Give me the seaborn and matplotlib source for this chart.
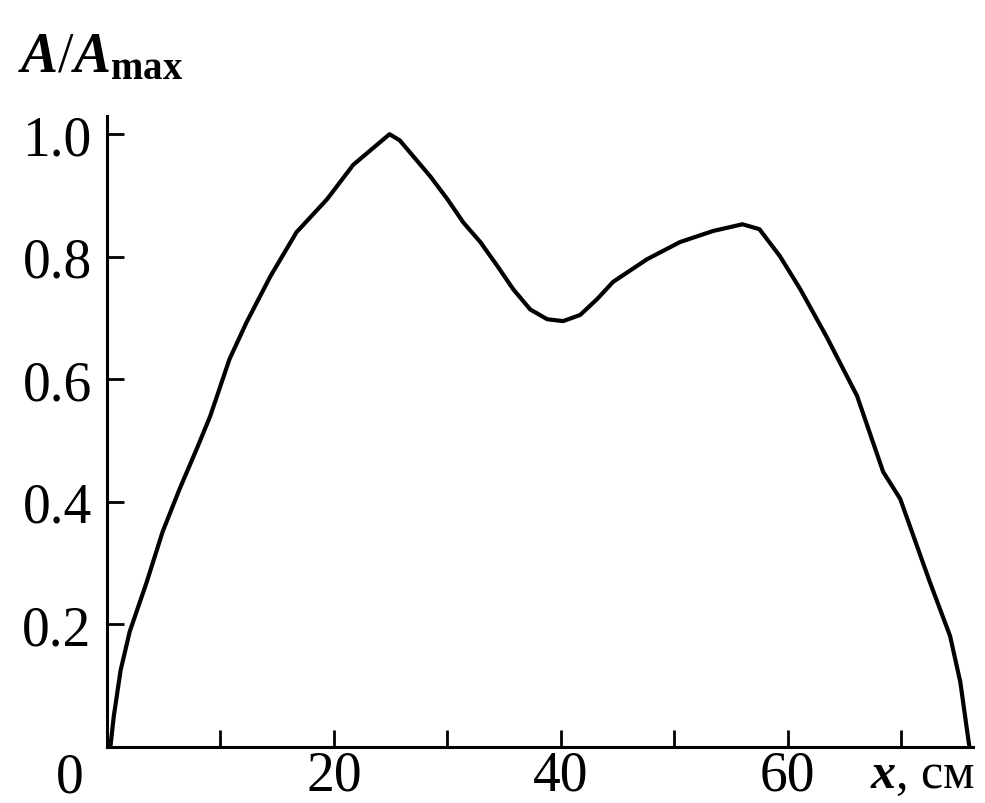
import matplotlib
matplotlib.use("Agg")
import matplotlib.pyplot as plt
import seaborn as sns
import pandas as pd

# Data
x_cm = [0.3, 0.6, 1.2, 2.0, 3.5, 4.9, 6.4, 7.9, 9.1, 10.8, 12.3, 14.4, 16.7,
        19.4, 21.7, 24.9, 25.8, 28.5, 30.0, 31.4, 32.9, 34.4, 35.8, 37.3,
        38.8, 40.2, 41.7, 43.2, 44.6, 47.6, 50.5, 53.4, 56.0, 57.5, 59.3,
        61.1, 63.4, 66.1, 68.4, 69.9, 72.5, 74.3, 75.2, 76.0]
a_rel = [0.0, 0.05, 0.125, 0.188, 0.269, 0.351, 0.421, 0.486, 0.54, 0.633,
         0.693, 0.768, 0.84, 0.894, 0.95, 1.0, 0.99, 0.931, 0.894, 0.856,
         0.824, 0.785, 0.747, 0.714, 0.698, 0.695, 0.705, 0.731, 0.759,
         0.796, 0.824, 0.842, 0.853, 0.845, 0.801, 0.747, 0.67, 0.573,
         0.449, 0.405, 0.27, 0.181, 0.106, 0.0]

x_ticks = [10, 20, 30, 40, 50, 60, 70]
x_tick_labels = ["", "20", "", "40", "", "60", ""]
y_ticks = [0.2, 0.4, 0.6, 0.8, 1.0]
y_tick_labels = ["0.2", "0.4", "0.6", "0.8", "1.0"]

sns.set_theme(style="ticks")
plt.rcParams["font.family"] = ["Liberation Serif", "DejaVu Serif"]
plt.rcParams["mathtext.fontset"] = "custom"
plt.rcParams["mathtext.rm"] = "Liberation Serif"
plt.rcParams["mathtext.it"] = "Liberation Serif:italic:bold"
plt.rcParams["mathtext.bf"] = "Liberation Serif:bold"

df = pd.DataFrame({"x": x_cm, "a": a_rel})

fig = plt.figure(figsize=(9.85, 8.04), dpi=100)
ax = fig.add_axes([0.1086, 0.0697, 0.879, 0.785])
sns.lineplot(data=df, x="x", y="a", ax=ax, color="black", linewidth=3.0,
             sort=True, estimator=None)

ax.set_xlim(0, 76.3)
ax.set_ylim(0, 1.03)
ax.set_xticks(x_ticks)
ax.set_xticklabels(x_tick_labels)
ax.set_yticks(y_ticks)
ax.set_yticklabels(y_tick_labels)
ax.set_xlabel("")
ax.set_ylabel("")

for side in ["top", "right"]:
    ax.spines[side].set_visible(False)
for side in ["left", "bottom"]:
    ax.spines[side].set_linewidth(2.2)
    ax.spines[side].set_color("black")

ax.tick_params(axis="both", direction="in", length=12, width=2.0,
               colors="black", labelsize=40)
ax.tick_params(axis="x", pad=2)
ax.tick_params(axis="y", pad=11)

# corner "0" and axis names
ax.annotate("0", xy=(0, 0), xycoords="data", xytext=(-27, -3),
            textcoords="offset points", ha="center", va="top", fontsize=40,
            color="black")
ax.annotate(r"$\mathit{x}$, см", xy=(1, 0), xycoords="axes fraction",
            xytext=(2, -3), textcoords="offset points", ha="right", va="top",
            fontsize=36, color="black")
fig.text(18 / 985, (804 - 72) / 804, r"$A/A_{\mathbf{max}}$", fontsize=40,
         ha="left", va="baseline", color="black")

fig.savefig("out.png", dpi=100, facecolor="white")
